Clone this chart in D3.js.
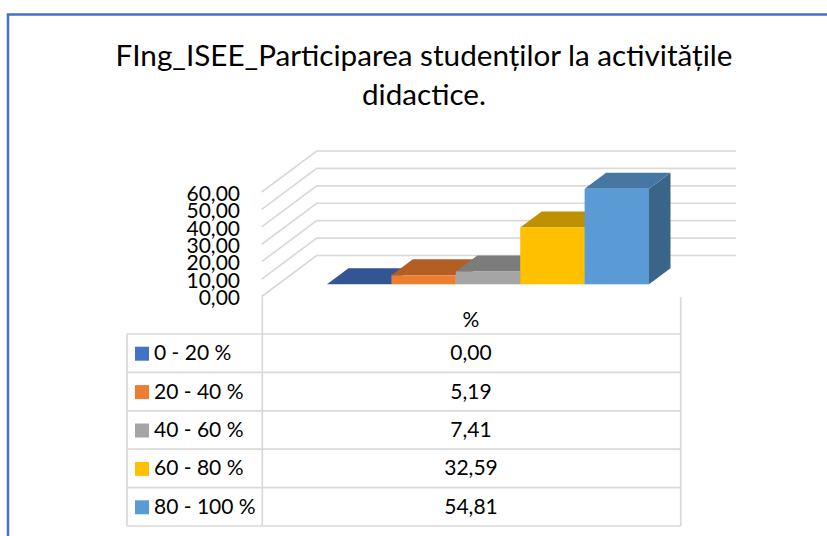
<!DOCTYPE html>
<html><head><meta charset="utf-8">
<script src="https://cdn.jsdelivr.net/npm/d3@7/dist/d3.min.js"></script>
<style>html,body{margin:0;padding:0;background:#fff}svg{display:block}text{font-family:Lato,"Open Sans",sans-serif;fill:#000}</style>
</head><body><svg id="c" width="827" height="536"></svg>
<script>
const titleLines = ["FIng_ISEE_Participarea studenților la activitățile","didactice."];
const categories = ["0 - 20 %","20 - 40 %","40 - 60 %","60 - 80 %","80 - 100 %"];
const values = [0.00,5.19,7.41,32.59,54.81];
const seriesName = "%";
const yTicks = [0,10,20,30,40,50,60];
const frontColors = ["#4472C4","#ED7D31","#A5A5A5","#FFC000","#5B9BD5"];
const topColors = ["#335593","#B25E25","#7C7C7C","#BF9000","#4676A3"];
const sideColors = ["#29446F","#8E4B1D","#636363","#997300","#3A6488"];

const fmt = v => v.toFixed(2).replace(".", ",");
const svg = d3.select("#c");
const grid = "#d9d9d9";

// frame
svg.append("path").attr("d","M8 536V14.5H827").attr("fill","none").attr("stroke","#4472C4").attr("stroke-width",2.5);

// title
const titleWidths = [617,124];
svg.selectAll("text.title").data(titleLines).join("text").attr("class","title")
  .attr("x",424).attr("y",(d,i)=>66+i*39).attr("text-anchor","middle")
  .attr("font-size",28).attr("textLength",(d,i)=>titleWidths[i]).attr("lengthAdjust","spacingAndGlyphs").text(d=>d);

// scales
const y = d3.scaleLinear().domain([0,60]).range([296.5,192]);
const x = d3.scaleBand().domain(categories).range([327,649]).padding(0);
const wall = {dx:55,dy:-41}, bar = {dx:21.5,dy:-16,lift:-12.2};

// walls
const g = svg.append("g").attr("fill","none").attr("stroke",grid).attr("stroke-width",1.7);
yTicks.forEach(t=>{
  g.append("path").attr("d",`M261.7 ${y(t)}L${261.7+wall.dx} ${y(t)+wall.dy}H736`);
});

// axis labels
const axis = d3.axisLeft(y).tickValues(yTicks).tickFormat(fmt).tickSize(0).tickPadding(0);
const ag = svg.append("g").attr("transform","translate(240,1.5)").call(axis);
ag.select(".domain").remove();
ag.selectAll("text").attr("font-size",21).attr("style","font-family:Lato,sans-serif;fill:#000");

// bars
const bars = svg.append("g");
categories.forEach((c,i)=>{
  const x0=x(c), x1=x0+x.bandwidth(), yb=y(0)+bar.lift, yt=y(values[i])+bar.lift;
  if(values[i]>0) bars.append("path").attr("fill",sideColors[i])
    .attr("d",`M${x1} ${yt}l${bar.dx} ${bar.dy}V${yb+bar.dy}L${x1} ${yb}Z`);
  bars.append("path").attr("fill",topColors[i])
    .attr("d",`M${x0} ${yt}l${bar.dx} ${bar.dy}H${x1+bar.dx}L${x1} ${yt}Z`);
  if(values[i]>0) bars.append("rect").attr("fill",frontColors[i])
    .attr("x",x0).attr("y",yt).attr("width",x1-x0).attr("height",yb-yt);
});

// data table
const colL=127, colM=262.3, colR=680.7, tTop=297, rowY=d3.scaleBand().domain(categories).range([334,526]);
const t = svg.append("g").attr("stroke",grid).attr("stroke-width",1.7);
[colM,colR].forEach(v=>t.append("line").attr("x1",v).attr("x2",v).attr("y1",tTop).attr("y2",526));
t.append("line").attr("x1",colL).attr("x2",colL).attr("y1",334).attr("y2",526);
[334,...categories.map(c=>rowY(c)+rowY.bandwidth())].forEach(v=>t.append("line").attr("x1",colL).attr("x2",colR).attr("y1",v).attr("y2",v));

svg.append("text").attr("x",471).attr("y",327).attr("text-anchor","middle").attr("font-size",21).text(seriesName);
categories.forEach((c,i)=>{
  const m=rowY(c)+rowY.bandwidth()/2;
  svg.append("rect").attr("x",135).attr("y",m-6.5).attr("width",14).attr("height",14).attr("fill",frontColors[i]);
  svg.append("text").attr("x",154).attr("y",m+7).attr("font-size",21).text(c);
  svg.append("text").attr("x",471).attr("y",m+7).attr("text-anchor","middle").attr("font-size",21).text(fmt(values[i]));
});
</script></body></html>
